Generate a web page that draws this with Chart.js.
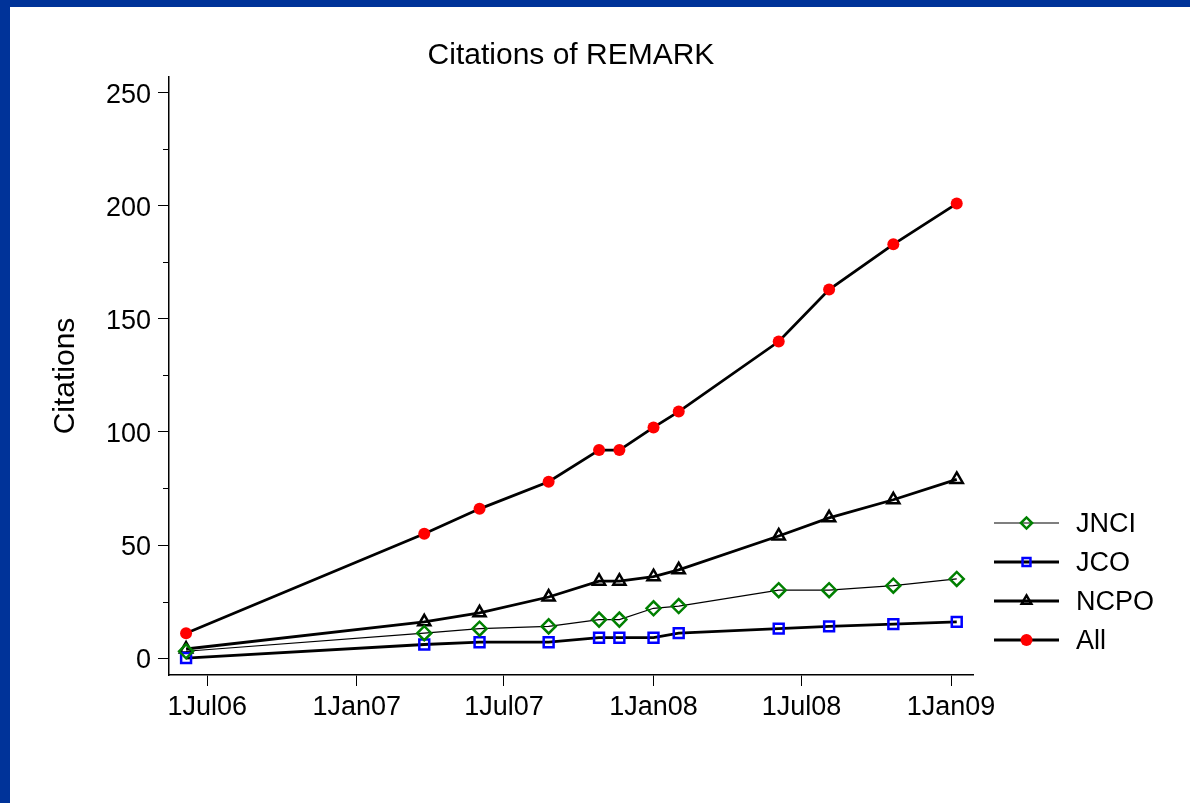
<!DOCTYPE html>
<html>
<head>
<meta charset="utf-8">
<script src="https://cdn.jsdelivr.net/npm/chart.js@4.4.0/dist/chart.umd.min.js"></script>
<style>
  html, body { margin: 0; padding: 0; background: #fff; }
  body { width: 1190px; height: 803px; overflow: hidden; }
  #frame {
    position: absolute; left: 0; top: 0; width: 1190px; height: 803px;
    border-top: 7px solid #003399; border-left: 10px solid #003399;
    box-sizing: border-box; background: #fff;
  }
  canvas { display: block; }
</style>
</head>
<body>
<div id="frame"><canvas id="citChart" width="1180" height="796"></canvas></div>
<script>
// data
const dates = ["2006-06-05", "2007-03-25", "2007-06-01", "2007-08-25", "2007-10-26", "2007-11-20",
  "2008-01-01", "2008-02-01", "2008-06-03", "2008-08-04", "2008-10-22", "2009-01-08"];
const jnci = [3, 11, 13, 14, 17, 17, 22, 23, 30, 30, 32, 35];
const jco = [0, 6, 7, 7, 9, 9, 9, 11, 13, 14, 15, 16];
const ncpo = [4, 16, 20, 27, 34, 34, 36, 39, 54, 62, 70, 79];
const all = [11, 55, 66, 78, 92, 92, 102, 109, 140, 163, 183, 201];

const xTickDates = ["2006-07-01", "2007-01-01", "2007-07-01", "2008-01-01", "2008-07-01", "2009-01-01"];
const xTickLabels = ["1Jul06", "1Jan07", "1Jul07", "1Jan08", "1Jul08", "1Jan09"];
const yTicks = [0, 50, 100, 150, 200, 250];
const yMinorTicks = [25, 75, 125, 175, 225];

const day = (s) => Date.parse(s) / 86400000;
const pts = (vals) => vals.map((v, i) => ({ x: day(dates[i]), y: v }));

Chart.defaults.font.family = "'Liberation Sans', Arial, sans-serif";
Chart.defaults.color = "#000";

// short ticks between the labelled ones
const minorTicks = {
  id: "minorTicks",
  afterDraw(chart) {
    const { ctx, chartArea } = chart;
    const yScale = chart.scales.y;
    ctx.save();
    ctx.strokeStyle = "#000";
    ctx.lineWidth = 1;
    yMinorTicks.forEach((v) => {
      const py = Math.round(yScale.getPixelForValue(v)) + 0.5;
      ctx.beginPath();
      ctx.moveTo(chartArea.left - 6, py);
      ctx.lineTo(chartArea.left, py);
      ctx.stroke();
    });
    ctx.restore();
  }
};

// legend on the right: line sample with marker, then label
const sideLegend = {
  id: "sideLegend",
  afterDraw(chart) {
    const { ctx, chartArea } = chart;
    const x0 = chartArea.right + 21, x1 = x0 + 65, tx = x1 + 17;
    ctx.save();
    chart.data.datasets.forEach((ds, i) => {
      const y = chartArea.top + 446 + i * 39;
      ctx.strokeStyle = ds.borderColor;
      ctx.lineWidth = ds.borderWidth;
      ctx.beginPath();
      ctx.moveTo(x0, y);
      ctx.lineTo(x1, y);
      ctx.stroke();
      ctx.fillStyle = ds.pointBackgroundColor;
      ctx.strokeStyle = ds.pointBorderColor;
      ctx.lineWidth = ds.pointBorderWidth;
      const r = ds.pointStyle === "circle" ? ds.pointRadius : ds.pointRadius * 0.8;
      Chart.helpers.drawPoint(ctx, {
        pointStyle: ds.pointStyle, radius: r, rotation: 0, borderWidth: ds.pointBorderWidth
      }, (x0 + x1) / 2, y);
      ctx.fillStyle = "#000";
      ctx.font = "27px 'Liberation Sans', Arial, sans-serif";
      ctx.textBaseline = "middle";
      ctx.textAlign = "left";
      ctx.fillText(ds.label, tx, y + 2);
    });
    ctx.restore();
  }
};

const ctx = document.getElementById("citChart").getContext("2d");
new Chart(ctx, {
  type: "line",
  data: {
    datasets: [{
      label: "JNCI",
      data: pts(jnci),
      borderColor: "#000",
      borderWidth: 1.2,
      pointStyle: "rectRot",
      pointRadius: 7,
      pointBorderColor: "#008000",
      pointBackgroundColor: "rgba(0,0,0,0)",
      pointBorderWidth: 2.5,
    }, {
      label: "JCO",
      data: pts(jco),
      borderColor: "#000",
      borderWidth: 2.8,
      pointStyle: "rect",
      pointRadius: 7,
      pointBorderColor: "#0000ff",
      pointBackgroundColor: "rgba(0,0,0,0)",
      pointBorderWidth: 2.5,
    }, {
      label: "NCPO",
      data: pts(ncpo),
      borderColor: "#000",
      borderWidth: 2.8,
      pointStyle: "triangle",
      pointRadius: 7,
      pointBorderColor: "#000",
      pointBackgroundColor: "rgba(0,0,0,0)",
      pointBorderWidth: 2.5,
    }, {
      label: "All",
      data: pts(all),
      borderColor: "#000",
      borderWidth: 2.8,
      pointStyle: "circle",
      pointRadius: 6,
      pointBorderColor: "#ff0000",
      pointBackgroundColor: "#ff0000",
      pointBorderWidth: 0,
    }]
  },
  options: {
    responsive: false,
    animation: false,
    devicePixelRatio: 1,
    layout: { padding: { left: 0, right: 217, top: 0, bottom: 0 } },
    plugins: {
      legend: { display: false },
      tooltip: { enabled: false },
      title: {
        display: true,
        text: "Citations of REMARK",
        fullSize: false,
        color: "#000",
        font: { size: 30, weight: "normal" },
        padding: { top: 31, bottom: 3 }
      }
    },
    scales: {
      x: {
        type: "linear",
        min: day("2006-05-15"),
        max: day("2009-01-28"),
        afterBuildTicks: (s) => { s.ticks = xTickDates.map((d) => ({ value: day(d) })); },
        afterFit: (s) => { s.height = 128; },
        grid: { drawOnChartArea: false, tickLength: 11, tickColor: "#000", tickWidth: 1 },
        border: { color: "#000", width: 1.5 },
        ticks: {
          font: { size: 27 },
          padding: 5,
          maxRotation: 0,
          autoSkip: false,
          callback: (v, i) => xTickLabels[i]
        }
      },
      y: {
        type: "linear",
        min: -7.5,
        max: 257,
        afterBuildTicks: (s) => { s.ticks = yTicks.map((v) => ({ value: v })); },
        afterFit: (s) => { s.width = 159; },
        grid: { drawOnChartArea: false, tickLength: 11, tickColor: "#000", tickWidth: 1 },
        border: { color: "#000", width: 1.5 },
        ticks: { font: { size: 27 }, padding: 7, labelOffset: 3 },
        title: {
          display: true,
          text: "Citations",
          font: { size: 30 },
          padding: { top: 38, bottom: 0 }
        }
      }
    }
  },
  plugins: [minorTicks, sideLegend]
});
</script>
</body>
</html>
